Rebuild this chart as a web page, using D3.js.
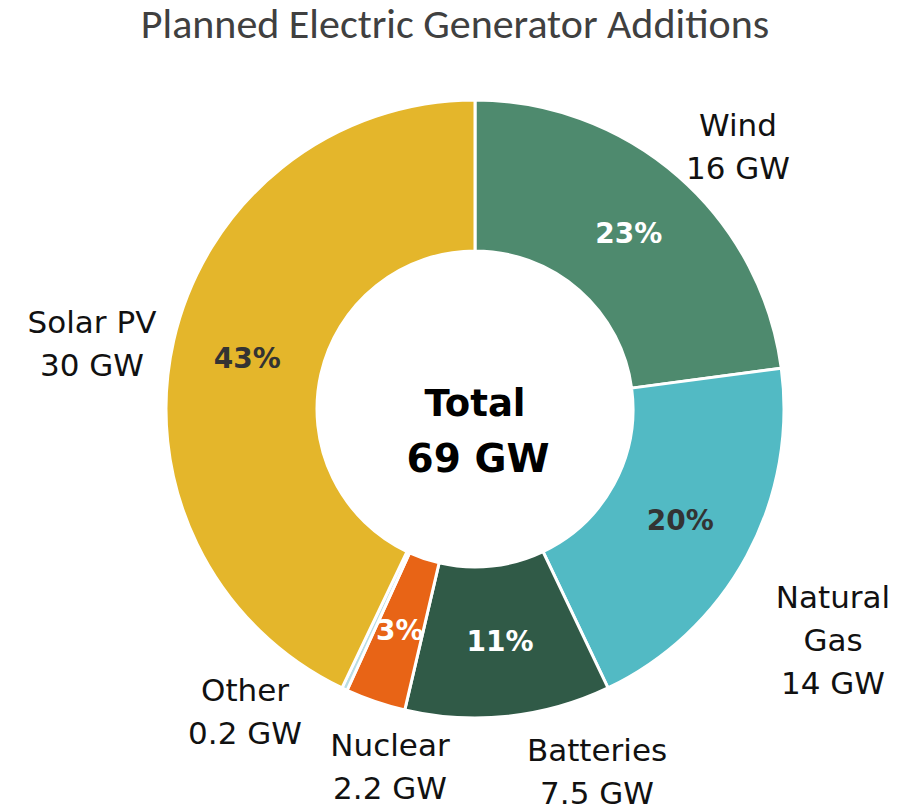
<!DOCTYPE html>
<html><head><meta charset="utf-8">
<script src="https://cdn.jsdelivr.net/npm/d3@7"></script>
<style>body{margin:0;background:#fff}svg{display:block}</style>
</head><body>
<svg id="c" width="915" height="807"></svg>
<script>
const categories = ["Wind", "Natural Gas", "Batteries", "Nuclear", "Other", "Solar PV"];
const valuesGW = [16, 14, 7.5, 2.2, 0.2, 30];
const valueLabels = ["16 GW", "14 GW", "7.5 GW", "2.2 GW", "0.2 GW", "30 GW"];
const pctLabels = ["23%", "20%", "11%", "3%", "", "43%"];
const colors = ["#4e8a6e", "#52bac4", "#305a47", "#e86416", "#b9dde4", "#e4b62b"];
const pctColors = ["#ffffff", "#333333", "#ffffff", "#ffffff", "#ffffff", "#333333"];
const nameLines = [["Wind"], ["Natural", "Gas"], ["Batteries"], ["Nuclear"], ["Other"], ["Solar PV"]];
const labelAnchors = [[738,125],[833,597],[597,750],[390,745],[245,690],[92,322]];

const svg = d3.select("#c");
const cx = 475, cy = 409, R = 309, r = 158;
const font = "'DejaVu Sans', sans-serif";

svg.append("text").attr("x", 455).attr("y", 38).attr("text-anchor", "middle")
  .attr("font-family", "Carlito, 'Open Sans', sans-serif").attr("font-size", 42)
  .attr("fill", "#404040").text("Planned Electric Generator Additions");

const data = categories.map((c, i) => ({name: c, value: valuesGW[i], i}));
const pie = d3.pie().value(d => d.value).sort(null);
const arc = d3.arc().innerRadius(r).outerRadius(R);
const arcs = pie(data);
const g = svg.append("g").attr("transform", `translate(${cx},${cy})`);
g.selectAll("path").data(arcs).join("path")
  .attr("d", arc).attr("fill", d => colors[d.data.i])
  .attr("stroke", "#fff").attr("stroke-width", 3).attr("stroke-linejoin", "round");

g.selectAll("text.pct").data(arcs).join("text").attr("class", "pct")
  .attr("transform", d => `translate(${arc.centroid(d)})`)
  .attr("text-anchor", "middle").attr("dy", "0.36em")
  .attr("font-family", font).attr("font-weight", "bold").attr("font-size", 28)
  .attr("fill", d => pctColors[d.data.i]).text(d => pctLabels[d.data.i]);

g.append("text").attr("x", 0).attr("y", 7).attr("text-anchor", "middle")
  .attr("font-family", font).attr("font-weight", "bold").attr("font-size", 37)
  .attr("fill", "#000").text("Total");
g.append("text").attr("x", 3).attr("y", 63).attr("text-anchor", "middle")
  .attr("font-family", font).attr("font-weight", "bold").attr("font-size", 39)
  .attr("fill", "#000").text("69 GW");

data.forEach((d, i) => {
  const [x, y] = labelAnchors[i];
  const lines = nameLines[i].concat([valueLabels[i]]);
  const t = svg.append("text").attr("text-anchor", "middle")
    .attr("font-family", font).attr("font-size", 31).attr("fill", "#111");
  lines.forEach((l, k) => {
    t.append("tspan").attr("x", x).attr("y", y + 11 + k * 43).text(l);
  });
});
</script>
</body></html>
